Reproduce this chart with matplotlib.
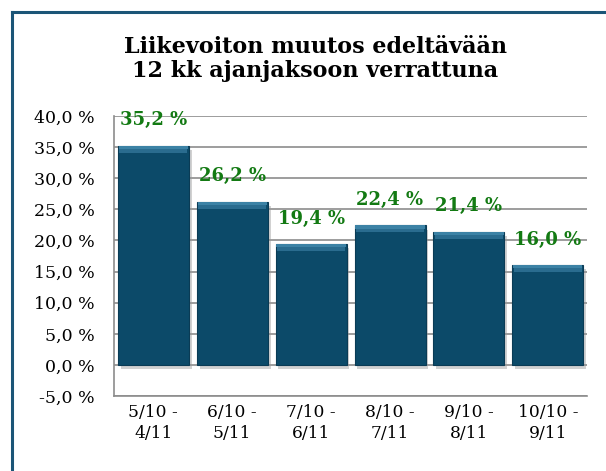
import matplotlib.pyplot as plt
import matplotlib.patheffects as pe
from matplotlib.lines import Line2D

periods = ["5/10 -\n4/11", "6/10 -\n5/11", "7/10 -\n6/11",
           "8/10 -\n7/11", "9/10 -\n8/11", "10/10 -\n9/11"]
values = [35.2, 26.2, 19.4, 22.4, 21.4, 16.0]
yticks = [-5, 0, 5, 10, 15, 20, 25, 30, 35, 40]

plt.rcParams['font.family'] = ['DejaVu Serif']

fig = plt.figure(figsize=(6.06, 4.71), dpi=100)
ax = fig.add_axes([0.188, 0.159, 0.781, 0.595])

x = range(len(values))
bars = ax.bar(x, values, width=0.9, color='#0C4A69', edgecolor='#0A3B55',
              linewidth=0.8, zorder=3)
for b in bars:
    b.set_path_effects([pe.SimplePatchShadow(offset=(2, -3), shadow_rgbFace='#999999', alpha=0.45),
                        pe.Normal()])
# lighter bevel at the top of each bar
ax.bar(x, [1.1] * len(values), bottom=[v - 1.1 for v in values], width=0.86,
       color='#2A6C8F', linewidth=0, zorder=4)
ax.bar(x, [0.5] * len(values), bottom=[v - 0.5 for v in values], width=0.88,
       color='#3C82A5', linewidth=0, zorder=4)

for i, v in enumerate(values):
    ax.annotate(("%.1f %%" % v).replace(".", ","), (i, v), xytext=(0, 12),
                textcoords='offset points', ha='center', va='bottom',
                color='#137A13', fontsize=13, fontweight='bold', zorder=5)

ax.set_xlim(-0.5, len(values) - 0.5)
ax.set_ylim(-5, 40)
ax.set_yticks(yticks)
ax.set_yticklabels([("%.1f %%" % t).replace(".", ",") for t in yticks], fontsize=12.5)
ax.set_xticks(list(x))
ax.set_xticklabels(periods, fontsize=12.3, linespacing=1.25)
ax.tick_params(axis='both', length=0)
ax.tick_params(axis='y', pad=14)
ax.tick_params(axis='x', pad=6)
ax.yaxis.grid(True, color='#8C8C8C', linewidth=1.2, zorder=0)
for s in ['top', 'right']:
    ax.spines[s].set_visible(False)
for s in ['left', 'bottom']:
    ax.spines[s].set_color('#8C8C8C')
    ax.spines[s].set_linewidth(1.2)

fig.text(0.52, 0.875, "Liikevoiton muutos edeltävään\n12 kk ajanjaksoon verrattuna",
         ha='center', va='center', fontsize=16, fontweight='bold', linespacing=1.1)

# frame border (left and top only visible)
fig.add_artist(Line2D([0.02, 0.02], [0, 0.975], color='#1B5577', linewidth=2.2))
fig.add_artist(Line2D([0.02, 1.0], [0.975, 0.975], color='#1B5577', linewidth=2.2))

fig.savefig("out.png", dpi=100)
